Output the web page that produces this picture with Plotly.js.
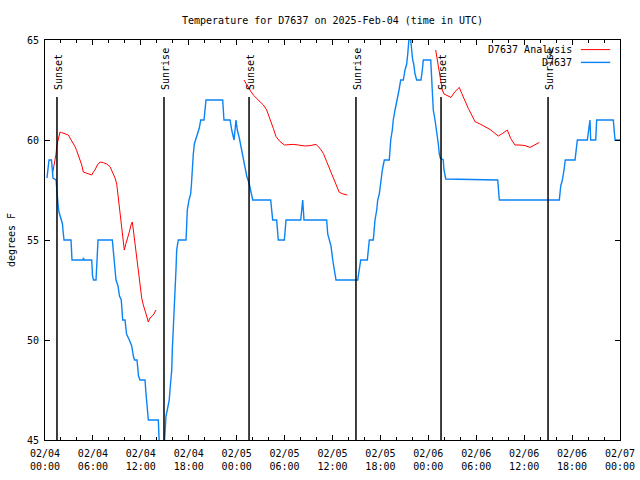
<!DOCTYPE html>
<html>
<head>
<meta charset="utf-8">
<script src="https://cdn.plot.ly/plotly-3.0.1.min.js"></script>
<style>html,body{margin:0;padding:0;background:#fff;}#chart{width:640px;height:480px;}</style>
</head>
<body>
<div id="chart"></div>
<script>
// ---- DATA (hours since 2025-02-04 00:00 UTC, degrees F) ----
var startDate = "2025-02-04 00:00";
var endDate = "2025-02-07 00:00";

var obsName = "D7637";
var obsHours = [0.25,0.38,0.50,0.81,1.00,1.38,1.50,1.63,1.75,2.00,2.19,2.25,2.38,3.26,3.38,4.76,4.82,4.88,5.85,5.95,6.07,6.39,6.51,6.64,8.43,8.64,8.89,9.14,9.33,9.55,9.73,10.02,10.21,10.56,10.86,11.06,11.21,11.52,11.71,11.90,12.52,12.65,12.81,12.94,14.19,14.34,14.90,15.03,15.15,15.31,15.44,15.56,15.65,15.78,15.87,15.94,16.07,16.15,16.28,16.40,16.49,16.69,17.66,17.74,17.82,18.03,18.24,18.34,18.44,18.57,18.70,18.91,19.07,19.32,19.50,19.91,20.16,22.25,22.41,23.17,23.38,23.67,23.92,24.08,24.33,24.63,24.96,25.26,25.58,25.88,26.01,28.26,28.39,28.51,29.01,29.09,29.21,29.97,30.18,32.02,32.18,32.27,32.43,35.27,35.40,35.60,35.81,36.03,36.23,36.44,39.16,39.36,39.53,40.36,40.48,40.61,41.11,41.20,41.32,41.54,41.66,41.86,42.04,42.24,42.36,42.49,43.11,43.20,43.29,43.49,43.61,43.83,44.11,44.33,44.54,44.87,45.08,45.29,45.42,45.58,45.67,45.79,45.92,46.04,46.17,46.33,46.54,47.08,47.25,47.37,48.30,48.42,48.55,48.62,48.84,49.05,49.25,49.37,49.50,49.87,49.96,50.18,56.69,56.89,64.40,64.58,64.78,64.99,65.15,66.37,66.49,66.66,67.91,68.03,68.16,68.24,68.33,68.96,69.08,71.16,71.38,72.00];
var obsTemps = [58.1,58.6,59.0,59.0,58.1,58.0,57.3,56.8,56.4,56.0,55.8,55.5,55.0,55.0,54.0,54.0,54.1,54.0,54.0,53.2,53.0,53.0,54.0,55.0,55.0,54.2,53.0,52.7,52.2,52.0,51.0,51.0,50.3,50.0,49.7,49.2,49.0,49.0,48.2,48.0,48.0,47.3,46.7,46.0,46.0,44.5,44.5,45.7,46.2,46.5,46.8,47.0,47.5,48.0,48.5,49.5,50.5,51.5,52.5,53.5,54.5,55.0,55.0,55.5,56.5,57.0,57.3,57.8,58.8,59.3,59.8,60.1,60.3,60.6,61.0,61.0,62.0,62.0,61.0,61.0,60.5,60.0,61.0,60.5,60.1,59.5,58.7,58.2,57.8,57.2,57.0,57.0,56.3,56.0,56.0,55.3,55.0,55.0,56.0,56.0,57.0,57.0,56.0,56.0,55.3,55.0,54.7,54.0,53.5,53.0,53.0,53.5,54.0,54.0,54.7,55.0,55.0,55.5,56.0,56.5,57.0,57.3,58.0,58.5,58.75,59.0,59.0,59.5,60.0,60.5,61.0,61.5,62.0,62.5,63.0,63.0,63.5,63.8,64.3,65.0,65.5,65.0,64.3,64.0,63.8,63.3,63.0,63.0,63.5,64.0,64.0,63.0,62.0,61.5,61.0,60.5,59.8,59.3,59.1,59.0,58.5,58.05,58.0,57.0,57.0,57.7,58.0,58.5,59.0,59.0,59.5,60.0,60.0,60.5,61.0,61.0,60.0,60.0,61.0,61.0,60.0,60.0];

var anaName = "D7637 Analysis";
var anaHours = [0.91,1.04,1.25,1.38,1.47,1.67,1.88,2.09,2.50,2.92,3.13,3.34,3.54,3.76,3.97,4.17,4.38,4.60,4.80,5.01,5.42,5.85,6.05,6.26,6.55,6.89,7.30,7.73,8.14,8.55,8.77,8.98,9.10,9.18,9.30,9.48,9.64,9.80,9.93,10.14,10.36,10.56,10.77,10.93,11.06,11.27,11.40,11.56,11.73,11.90,12.11,12.31,12.52,12.73,12.94,13.15,13.56,13.90,
  null,
  24.92,25.26,25.67,26.08,26.51,26.92,27.34,27.76,28.17,28.59,28.93,29.43,29.97,30.47,31.09,31.72,32.56,33.18,33.93,34.44,34.85,35.27,35.69,36.10,36.53,36.85,37.35,37.85,
  null,
  48.92,49.12,49.34,49.55,49.75,49.96,50.30,50.84,51.34,51.88,52.18,52.59,53.01,53.43,53.84,54.47,55.10,55.72,56.22,56.76,57.31,57.89,58.31,58.85,59.48,60.11,60.73,61.36,61.90];
var anaTemps = [58.25,58.5,59.0,59.3,59.7,60.0,60.4,60.37,60.3,60.25,60.1,59.97,59.8,59.67,59.47,59.25,59.0,58.75,58.4,58.37,58.33,58.25,58.4,58.5,58.75,58.9,58.87,58.8,58.67,58.33,58.1,57.8,57.4,57.0,56.5,56.2,55.5,54.85,54.5,54.83,55.1,55.4,55.75,55.9,55.5,54.83,54.3,53.8,53.2,52.6,52.1,51.75,51.4,51.2,50.9,51.1,51.25,51.5,
  null,
  63.0,62.75,62.5,62.25,62.08,61.9,61.75,61.5,61.08,60.58,60.17,59.92,59.75,59.78,59.78,59.75,59.7,59.72,59.78,59.58,59.33,58.92,58.5,58.08,57.67,57.38,57.3,57.25,
  null,
  64.5,64.0,63.5,63.0,62.5,62.3,62.22,62.13,62.42,62.63,62.33,61.92,61.58,61.25,60.92,60.8,60.67,60.53,60.37,60.2,60.33,60.5,60.08,59.75,59.75,59.72,59.63,59.75,59.88];

var sunHours = [1.50, 14.90, 25.55, 38.94, 49.59, 62.99];
var sunLabels = ["Sunset", "Sunrise", "Sunset", "Sunrise", "Sunset", "Sunrise"];

var titleText = "Temperature for D7637 on 2025-Feb-04 (time in UTC)";
var yTitle = "degrees F";

// ---- helpers ----
function pad(n){ return (n < 10 ? "0" : "") + n; }
var baseMs = Date.UTC(2025, 1, 4, 0, 0, 0);
function toDate(h){
  if (h === null) return null;
  var d = new Date(baseMs + Math.round(h * 3600000));
  return d.getUTCFullYear() + "-" + pad(d.getUTCMonth()+1) + "-" + pad(d.getUTCDate()) + " " +
         pad(d.getUTCHours()) + ":" + pad(d.getUTCMinutes()) + ":" + pad(d.getUTCSeconds());
}

var FONT = "DejaVu Sans Mono, monospace";
var RED = "#ff0000";
var BLUE = "#0a84f5";

var traces = [
  {x: anaHours.map(toDate), y: anaTemps, type: "scatter", mode: "lines", name: anaName,
   line: {color: RED, width: 1}, connectgaps: false, showlegend: false, cliponaxis: true},
  {x: obsHours.map(toDate), y: obsTemps, type: "scatter", mode: "lines", name: obsName,
   line: {color: BLUE, width: 1.4}, showlegend: false, cliponaxis: true}
];

var shapes = [];
var annotations = [];
sunHours.forEach(function(h, i){
  var t = toDate(h);
  shapes.push({type: "line", xref: "x", yref: "paper", x0: t, x1: t, y0: 0, y1: 0.8575,
               line: {color: "black", width: 1.5}});
  annotations.push({xref: "x", yref: "paper", x: t, y: 0.87, xanchor: "center", yanchor: "bottom",
                    text: sunLabels[i], textangle: -90, showarrow: false, xshift: 1,
                    font: {family: FONT, size: 10, color: "black"}});
});

// gnuplot-style key (text then sample, right aligned)
var legendItems = [{name: anaName, color: RED, w: 1, y: 0.976}, {name: obsName, color: BLUE, w: 1.4, y: 0.944}];
legendItems.forEach(function(it){
  annotations.push({xref: "paper", yref: "paper", x: 0.92, y: it.y, xanchor: "right", yanchor: "middle",
                    text: it.name, showarrow: false, font: {family: FONT, size: 10, color: "black"}});
  shapes.push({type: "line", xref: "paper", yref: "paper", x0: 0.932, x1: 0.983, y0: it.y, y1: it.y,
               line: {color: it.color, width: it.w}});
});

var layout = {
  width: 640, height: 480,
  margin: {l: 45, r: 20, t: 40, b: 40, pad: 0},
  paper_bgcolor: "white", plot_bgcolor: "white",
  font: {family: FONT, size: 10, color: "black"},
  title: {text: titleText, font: {family: FONT, size: 10, color: "black"},
          xref: "paper", x: 0.5, xanchor: "center", yref: "container", y: 0.958, yanchor: "middle"},
  showlegend: false,
  xaxis: {
    type: "date", range: [startDate, endDate],
    tickmode: "linear", tick0: startDate, dtick: 6 * 3600000,
    tickformat: "%m/%d<br>%H:%M",
    ticks: "inside", ticklen: 5, tickwidth: 1, tickcolor: "black",
    ticklabelstandoff: 4,
    minor: {dtick: 2 * 3600000, ticks: "inside", ticklen: 3, tickcolor: "black", showgrid: false},
    showline: true, linecolor: "black", linewidth: 1, mirror: "allticks",
    showgrid: false, zeroline: false,
    tickfont: {family: FONT, size: 10, color: "black"}
  },
  yaxis: {
    range: [45, 65], tickmode: "linear", tick0: 45, dtick: 5,
    ticks: "inside", ticklen: 5, tickwidth: 1, tickcolor: "black",
    ticklabelstandoff: 3,
    showline: true, linecolor: "black", linewidth: 1, mirror: "allticks",
    showgrid: false, zeroline: false,
    tickfont: {family: FONT, size: 10, color: "black"},
    title: {text: yTitle, font: {family: FONT, size: 10, color: "black"}, standoff: 9}
  },
  shapes: shapes,
  annotations: annotations
};

Plotly.newPlot("chart", traces, layout, {displayModeBar: false, staticPlot: true});
</script>
</body>
</html>
